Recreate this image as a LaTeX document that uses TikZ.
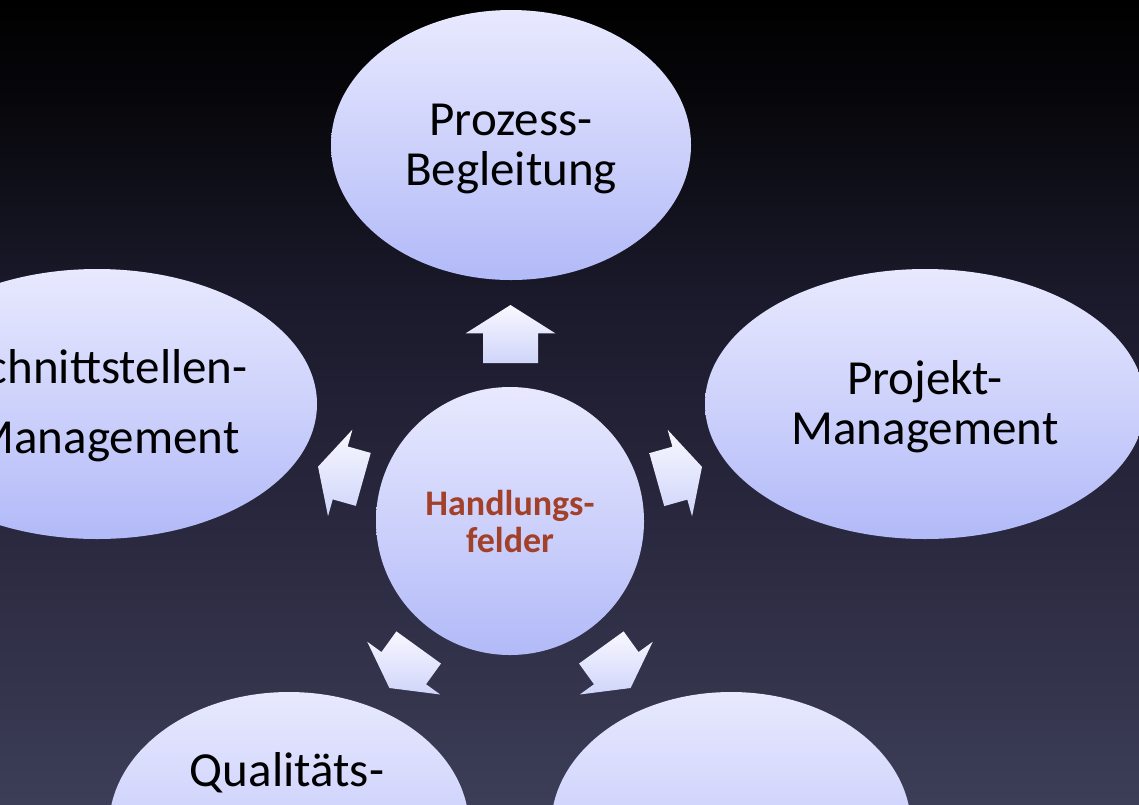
\documentclass[tikz,border=0pt]{standalone}
\usepackage{fontspec}
\setmainfont{Carlito}
\usetikzlibrary{shapes.geometric,calc}
\definecolor{bubtop}{HTML}{E8E9FE}
\definecolor{bubbot}{HTML}{B2BAF8}
\definecolor{arrtop}{HTML}{F8F8FF}
\definecolor{arrbot}{HTML}{D0D5FA}
\definecolor{hcol}{HTML}{A3402A}
\definecolor{bgZ}{HTML}{000000}
\definecolor{bgA}{HTML}{07070B}
\definecolor{bgB}{HTML}{1B1A2C}
\definecolor{bgC}{HTML}{27263C}
\definecolor{bgD}{HTML}{3C3D57}
\pgfdeclareverticalshading{bgshade}{100bp}{color(0bp)=(bgD); color(25bp)=(bgD); color(43.9bp)=(bgC); color(56.3bp)=(bgB); color(68.8bp)=(bgA); color(75bp)=(bgZ); color(100bp)=(bgZ)}
\tikzset{
  bubble/.style={ellipse, inner sep=0pt, minimum width=360pt, minimum height=270pt,
    top color=bubtop, bottom color=bubbot, draw=none},
  bubtext/.style={inner sep=0pt, align=center,
    font=\fontsize{49}{50}\selectfont, text=black},
  hub/.style={circle, inner sep=0pt, minimum size=268pt, top color=bubtop,
    bottom color=bubbot, draw=none, align=center,
    font=\fontsize{36}{37}\selectfont\bfseries, text=hcol},
  arrowfill/.style={top color=arrtop, bottom color=arrbot, draw=none}
}
% #1 from node, #2 to node, #3 distance of arrow centre, #4 angle, #5 length
\newcommand{\blockarr}[5]{%
  \begin{scope}[shift={($(#1)!#3!(#2)$)}, rotate=#4]
    \pgfmathsetmacro{\halfL}{#5/2}
    \pgfmathsetmacro{\hb}{#5/2-0.49*#5}
    \shade[arrowfill] (\halfL,0) -- (\hb,45) -- (\hb,27.5) -- (-\halfL,27.5)
      -- (-\halfL,-27.5) -- (\hb,-27.5) -- (\hb,-45) -- cycle;
  \end{scope}}
\begin{document}
\begin{tikzpicture}[x=1pt,y=-1pt]
\useasboundingbox (0,0) rectangle (1139,804);
\begin{scope}
\clip (0,0) rectangle (1139,804);
\shade[shading=bgshade] (0,0) rectangle (1139,804);
\node[bubble] (t) at (511,145) {};
\node[bubtext] (tt) at (511,149) {Prozess-\\Begleitung};
\node[bubble, minimum width=440pt] (r) at (925,404) {};
\node[bubtext] (rt) at (925,407) {Projekt-\\Management};
\node[bubble, minimum width=440pt] (l) at (97,404) {};
\node[bubtext, font=\fontsize{49}{70}\selectfont] (lt) at (106,406) {Schnittstellen-\\Management};
\node[bubble] (bl) at (289,827) {};
\node[bubtext, anchor=base] (q) at (287,786) {Qualitäts-};
\node[bubble] (br) at (731,827) {};
\node[hub] (c) at (510,521) {Handlungs-\\felder};
\blockarr{c}{t}{187pt}{90}{58}
\blockarr{c}{r}{176pt}{15.74}{47}
\blockarr{c}{l}{176pt}{164.26}{47}
\blockarr{c}{br}{181pt}{-54.16}{50}
\blockarr{c}{bl}{181pt}{-125.84}{50}
\end{scope}
\end{tikzpicture}
\end{document}
